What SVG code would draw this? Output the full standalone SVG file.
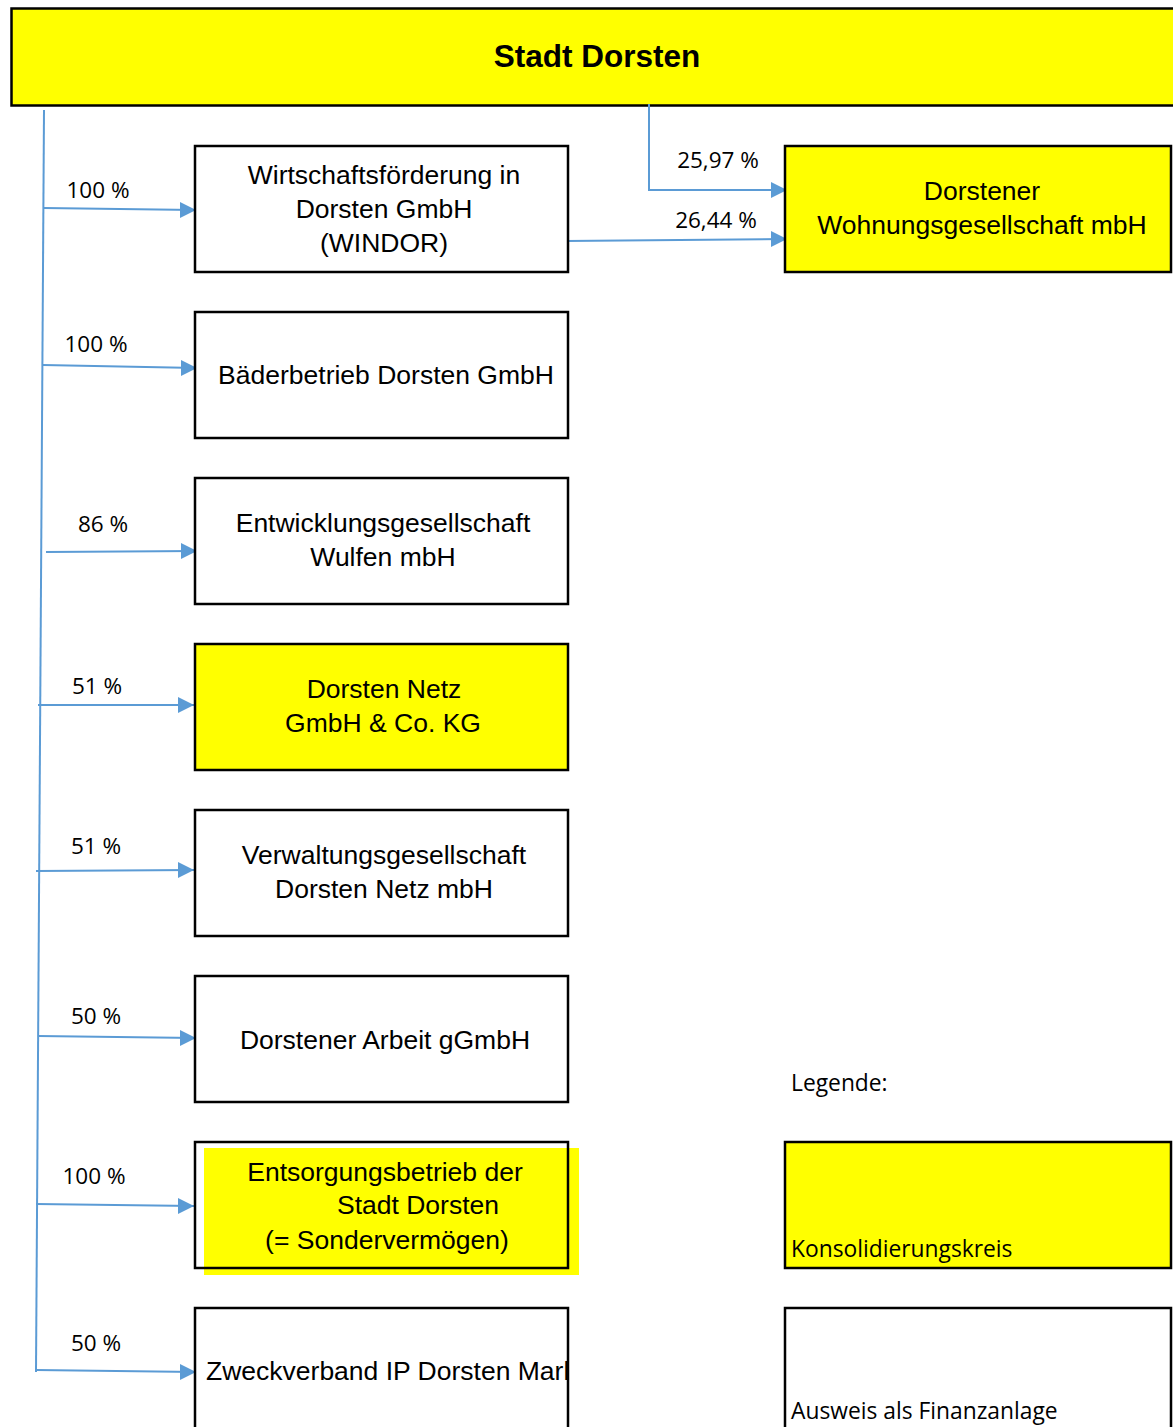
<svg xmlns="http://www.w3.org/2000/svg" width="1173" height="1427" viewBox="0 0 1173 1427">
<defs>
<style>
.box{fill:#fff;stroke:#000;stroke-width:2.5}
.yel{fill:#ffff00;stroke:#000;stroke-width:2.5}
.t{font-family:"Liberation Sans",Arial,sans-serif;font-size:26.5px;fill:#000;text-anchor:middle}
.p{font-family:"Open Sans","Liberation Sans",sans-serif;font-size:22.5px;fill:#000;text-anchor:middle}
.l{font-family:"Open Sans","Liberation Sans",sans-serif;font-size:22.8px;fill:#000}
.c{fill:none;stroke:#5b9bd5;stroke-width:2}
</style>
</defs>
<rect width="1173" height="1427" fill="#fff"/>

<g id="stadt">
<rect x="11.5" y="8.5" width="1170" height="97" class="yel"/>
<text x="597" y="67" class="t" style="font-weight:bold;font-size:31.5px">Stadt Dorsten</text>
</g>

<g id="connectors">
<path class="c" d="M44,110 L36,1372"/>
<path class="c" d="M44,208 L195,210"/>
<path class="c" d="M43,365 L197,368"/>
<path class="c" d="M46,552 L197,551"/>
<path class="c" d="M38,705 L194,705"/>
<path class="c" d="M36,871 L194,870"/>
<path class="c" d="M38,1036 L196,1038"/>
<path class="c" d="M36,1204 L194,1206"/>
<path class="c" d="M36,1370 L196,1372"/>
<path class="c" d="M649,104 L649,190 L785,190"/>
<path class="c" d="M566,241 L785,239"/>
<g fill="#5b9bd5">
<path d="M196,210 L180,202 L180,218 z"/>
<path d="M197,368 L181,360 L181,376 z"/>
<path d="M197,551 L181,543 L181,559 z"/>
<path d="M194,705 L178,697 L178,713 z"/>
<path d="M194,870 L178,862 L178,878 z"/>
<path d="M196,1038 L180,1030 L180,1046 z"/>
<path d="M194,1206 L178,1198 L178,1214 z"/>
<path d="M196,1372 L180,1364 L180,1380 z"/>
<path d="M787,190 L771,182 L771,198 z"/>
<path d="M787,239 L771,231 L771,247 z"/>
</g>
<text x="98" y="198" class="p">100 %</text>
<text x="96" y="352" class="p">100 %</text>
<text x="103" y="532" class="p">86 %</text>
<text x="97" y="694" class="p">51 %</text>
<text x="96" y="854" class="p">51 %</text>
<text x="96" y="1024" class="p">50 %</text>
<text x="94" y="1184" class="p">100 %</text>
<text x="96" y="1351" class="p">50 %</text>
<text x="718" y="168" class="p">25,97 %</text>
<text x="716" y="228" class="p">26,44 %</text>
</g>

<g id="windor">
<rect x="195" y="146" width="373" height="126" class="box"/>
<text x="384" y="184" class="t">Wirtschaftsförderung in</text>
<text x="384" y="218" class="t">Dorsten GmbH</text>
<text x="384" y="252" class="t">(WINDOR)</text>
</g>

<g id="dwg">
<rect x="785" y="146" width="386" height="126" class="yel"/>
<text x="982" y="200" class="t">Dorstener</text>
<text x="982" y="234" class="t">Wohnungsgesellschaft mbH</text>
</g>

<g id="baeder">
<rect x="195" y="312" width="373" height="126" class="box"/>
<text x="386" y="384" class="t">Bäderbetrieb Dorsten GmbH</text>
</g>

<g id="ewg">
<rect x="195" y="478" width="373" height="126" class="box"/>
<text x="383" y="532" class="t">Entwicklungsgesellschaft</text>
<text x="383" y="566" class="t">Wulfen mbH</text>
</g>

<g id="netz">
<rect x="195" y="644" width="373" height="126" class="yel"/>
<text x="384" y="698" class="t">Dorsten Netz</text>
<text x="383" y="732" class="t">GmbH &amp; Co. KG</text>
</g>

<g id="verwaltung">
<rect x="195" y="810" width="373" height="126" class="box"/>
<text x="384" y="864" class="t">Verwaltungsgesellschaft</text>
<text x="384" y="898" class="t">Dorsten Netz mbH</text>
</g>

<g id="arbeit">
<rect x="195" y="976" width="373" height="126" class="box"/>
<text x="385" y="1049" class="t">Dorstener Arbeit gGmbH</text>
</g>

<g id="entsorgung">
<rect x="204" y="1148" width="375" height="127" fill="#ffff00"/>
<rect x="195" y="1142" width="373" height="126" fill="none" stroke="#000" stroke-width="2.5"/>
<text x="385" y="1181" class="t">Entsorgungsbetrieb der</text>
<text x="418" y="1214" class="t">Stadt Dorsten</text>
<text x="387" y="1249" class="t">(= Sondervermögen)</text>
</g>

<g id="zweckverband">
<rect x="195" y="1308" width="373" height="130" class="box"/>
<text x="206" y="1380" class="t" style="text-anchor:start">Zweckverband IP Dorsten Marl</text>
</g>

<g id="legende">
<text x="791" y="1091" class="l">Legende:</text>
<rect x="785" y="1142" width="386" height="126" class="yel"/>
<text x="791" y="1257" class="l">Konsolidierungskreis</text>
<rect x="785" y="1308" width="386" height="130" class="box"/>
<text x="791" y="1419" class="l">Ausweis als Finanzanlage</text>
</g>
</svg>
